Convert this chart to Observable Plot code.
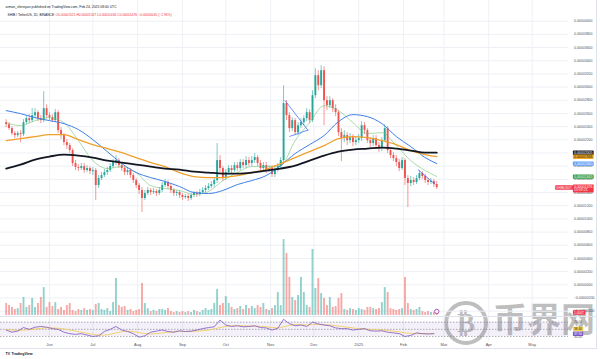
<!DOCTYPE html>
<html>
<head>
<meta charset="utf-8">
<script src="https://cdn.jsdelivr.net/npm/d3@7"></script>
<script src="https://cdn.jsdelivr.net/npm/@observablehq/plot@0.6"></script>
<style>
  html, body { margin: 0; padding: 0; background: #fff; }
  #chart { position: relative; width: 600px; height: 359px; overflow: hidden; background: #fff; }
  #chart > svg { position: absolute; left: 0; }
  .sep { position: absolute; background: #e0e3eb; }
</style>
</head>
<body>
<div id="chart"></div>
<script>
// ---------------- DATA (prices in units of 1e-8 USD, volume in trillions SHIB) ----------------
const SYMBOL_LINE = "SHIB / TetherUS, 1D, BINANCE";
const PUBLISHED = "arman_shirinyan published on TradingView.com, Feb 24, 2025 08:00 UTC";
const TICKER = "SHIBUSDT";
const COUNTDOWN = "15:59:21";
const START = "2024-05-02";          // first bar; bars every 2 days
const firstOpenE8 = 2461;

const closeE8 = [2430,2370,2294,2264,2294,2279,2461,2521,2491,2567,
2612,2521,2491,2673,2567,2536,2491,2612,2340,2264,
2158,2112,2037,1840,1779,1764,1794,1734,1764,1718,
1734,1506,1612,1658,1703,1734,1794,1855,1885,1809,
1764,1703,1734,1658,1582,1506,1431,1309,1385,1431,
1400,1415,1385,1431,1506,1552,1491,1431,1385,1400,
1355,1324,1340,1309,1355,1385,1370,1400,1431,1461,
1491,1521,1582,1885,1764,1612,1703,1764,1734,1809,
1764,1855,1809,1885,1840,1885,1930,1840,1764,1809,
1734,1764,1673,1734,1794,1885,2749,2567,2370,2491,
2309,2415,2461,2521,2612,2491,2870,3173,3021,3249,
2794,2718,2794,2673,2612,2309,2218,2264,2188,2233,
2158,2188,2218,2415,2340,2188,2143,2218,2112,2067,
2188,2370,2037,1961,1915,1855,1764,1885,1612,1537,
1582,1552,1612,1688,1643,1582,1552,1567,1521,1476];

const highE8 = [2506,2461,2400,2324,2324,2340,2506,2567,2582,2673,
2673,2643,2567,2930,2733,2612,2582,2658,2643,2385,
2294,2203,2143,2067,1885,1824,1840,1840,1809,1794,
1779,1764,1658,1703,1749,1779,1840,1900,1961,1915,
1855,1794,1779,1764,1688,1612,1537,1476,1431,1476,
1461,1461,1446,1476,1552,1597,1582,1521,1461,1431,
1431,1385,1370,1370,1385,1415,1415,1446,1476,1506,
1537,1567,1627,2143,1961,1794,1749,1809,1809,1855,
1855,1900,1900,1946,1930,1946,1991,1961,1885,1855,
1855,1809,1809,1779,1840,1930,3021,2794,2612,2536,
2521,2461,2521,2567,2673,2658,2945,3279,3249,3324,
3309,2855,2855,2824,2733,2643,2370,2340,2309,2294,
2279,2249,2279,2476,2461,2370,2233,2264,2264,2158,
2233,2430,2400,2067,2006,1961,1900,1930,1915,1658,
1643,1627,1658,1734,1718,1673,1612,1612,1597,1567];

const lowE8 = [2385,2340,2264,2218,2233,2158,2249,2430,2446,2461,
2521,2476,2446,2461,2521,2491,2461,2461,2294,2203,
2112,2052,1991,1794,1734,1718,1734,1688,1703,1673,
1658,1279,1461,1582,1627,1658,1703,1764,1809,1764,
1718,1658,1658,1612,1537,1461,1370,1097,1279,1355,
1355,1370,1340,1355,1400,1476,1446,1385,1340,1340,
1309,1279,1294,1264,1279,1324,1324,1340,1370,1400,
1431,1461,1476,1537,1703,1567,1582,1658,1688,1703,
1718,1734,1764,1764,1794,1794,1840,1794,1718,1718,
1688,1703,1627,1627,1703,1749,1855,2491,2309,2324,
2264,2264,2370,2415,2476,2446,2461,2824,2945,2976,
2415,2643,2673,2612,2552,2249,1870,2158,2112,2143,
2097,2112,2143,2173,2279,2143,2082,2097,2067,2006,
2021,2158,1991,1915,1870,1794,1718,1734,1506,1173,
1491,1506,1521,1582,1597,1537,1506,1521,1476,1446];

const volumeT = [4.0,3.3,2.7,2.0,2.3,4.0,6.0,2.7,3.3,5.7,
2.7,4.0,6.0,9.3,2.7,4.3,3.0,4.3,2.0,2.7,
1.7,3.3,4.0,1.7,1.3,2.0,1.7,2.3,1.7,2.0,
1.7,3.7,4.0,2.0,1.7,2.3,1.3,4.3,12.3,3.3,
2.7,3.0,1.7,2.0,1.3,1.7,2.0,10.7,4.0,2.3,
1.3,1.7,1.3,2.0,2.0,1.7,2.3,1.3,1.0,1.3,
1.0,1.3,1.0,1.3,1.0,1.7,1.3,1.0,1.7,2.3,
1.7,2.0,4.0,8.7,3.3,4.0,6.3,4.0,2.7,2.0,
2.3,3.0,2.0,3.3,2.3,3.0,2.3,3.3,2.7,4.0,
2.0,1.7,2.3,3.3,7.7,3.3,25.3,20.7,12.7,6.0,
5.0,6.7,12.7,7.7,3.3,2.7,22.0,9.0,12.3,7.3,
5.7,3.3,6.0,2.7,3.0,5.7,7.3,2.0,1.7,2.3,
2.0,1.7,2.3,2.0,1.7,2.7,2.7,2.3,2.0,2.3,
4.3,9.3,7.7,2.3,2.0,1.7,2.0,2.3,12.7,4.0,
2.0,1.7,2.0,2.7,1.3,1.0,1.3,1.0,1.0,1.0];

const maDates = ["2024-05-02","2024-05-12","2024-05-22","2024-06-01","2024-06-11","2024-06-21","2024-07-01","2024-07-11","2024-07-21","2024-07-31","2024-08-10","2024-08-20","2024-08-30","2024-09-09","2024-09-19","2024-09-29","2024-10-09","2024-10-19","2024-10-29","2024-11-08","2024-11-18","2024-11-28","2024-12-08","2024-12-18","2024-12-28","2025-01-07","2025-01-17","2025-01-27","2025-02-06","2025-02-16","2025-02-24"];
const ma20E8 = [2461,2415,2491,2536,2461,2188,1885,1764,1794,1703,1506,1461,1431,1370,1415,1582,1703,1794,1794,1809,2188,2461,2718,2643,2461,2294,2309,2112,1885,1734,1643];
const ma50E8 = [2643,2597,2536,2491,2446,2355,2203,2021,1840,1703,1627,1567,1491,1400,1385,1431,1521,1582,1658,1809,1991,2127,2264,2476,2582,2552,2446,2249,2097,1930,1840];
const ma100E8 = [2188,2218,2249,2279,2279,2203,2127,2067,2006,1930,1855,1794,1703,1643,1627,1627,1658,1703,1749,1840,1930,2021,2112,2218,2249,2233,2188,2127,2037,1976,1946];
const ma200E8 = [1764,1824,1900,1946,1976,1961,1930,1885,1855,1824,1794,1764,1749,1718,1703,1688,1688,1703,1734,1764,1809,1885,1961,2021,2052,2067,2082,2067,2037,2006,2005];

// RSI every 4 days from START
const rsiValues = [48,42,45,55,50,56,58,56,52,50,
42,38,36,38,34,30,32,44,50,58,
48,44,38,28,32,42,45,48,44,42,
46,44,45,48,52,55,57,76,62,58,
60,57,58,60,55,54,48,53,78,66,
60,62,58,70,65,62,60,54,52,52,
48,50,52,46,45,46,42,40,38,30,
33,40,38,37,37.9];
const rsiMA = [50,48,47,48,49,51,53,54,54,53,
51,48,45,42,39,36,34,34,36,40,
43,45,44,41,38,37,38,40,42,43,
44,44,44,45,46,48,51,55,58,60,
60,60,59,59,58,57,55,54,57,61,
63,63,62,63,64,63,62,60,58,56,
54,52,51,50,49,48,47,45,43,40,
39,38,38,38,38.4];
const rsiLevels = [70, 50, 30];
const rsiLabelTicks = [70, 30];

// hand-drawn trend lines
const trendStart = ["2024-11-11", "2024-11-14", "2025-02-11"];
const trendFrom = [2796, 2250, 1749];
const trendEnd = ["2024-11-27", "2024-11-27", "2025-02-23"];
const trendTo = [2341, 2349, 1522];

const priceTicks = [4000,3800,3600,3400,3200,3000,2800,2600,2400,2200,2000,1800,1600,1400,1200,1000,800,600,400,200,0,-200,-400];
const monthTickDates = ["2024-06-01","2024-07-01","2024-08-01","2024-09-01","2024-10-01","2024-11-01","2024-12-01","2025-01-01","2025-02-01","2025-03-01","2025-04-01","2025-05-01"];
const monthLabels = ["Jun","Jul","Aug","Sep","Oct","Nov","Dec","2025","Feb","Mar","Apr","May"];

// ---------------- BUILD ----------------
const UP = "#26a69a", DOWN = "#ef5350", GRID = "#edf0f5", AXIS_TXT = "#50535e";
const FONT = "'Liberation Sans', Arial, sans-serif";
const X_DOMAIN = [new Date("2024-04-28T02:10:00Z"), new Date("2025-05-26T04:00:00Z")];
const startDate = new Date(START + "T00:00:00Z");
const fmtPrice = v => (v < 0 ? "\u2212" : "") + (Math.abs(v) / 1e8).toFixed(8);
const monthTicks = monthTickDates.map(s => new Date(s + "T00:00:00Z"));
const fmtMonth = d => monthLabels[monthTicks.findIndex(t => +t === +d)];

const candles = closeE8.map((c, i) => {
  const open = i ? closeE8[i - 1] : firstOpenE8;
  return {date: d3.utcDay.offset(startDate, 2 * i), open, close: c, high: highE8[i], low: lowE8[i], vol: volumeT[i], up: c >= open};
});
const upC = candles.filter(d => d.up), dnC = candles.filter(d => !d.up);
const maData = maDates.map((s, i) => ({date: new Date(s + "T00:00:00Z"), ma20: ma20E8[i], ma50: ma50E8[i], ma100: ma100E8[i], ma200: ma200E8[i]}));
const rsiData = rsiValues.map((v, j) => ({date: d3.utcDay.offset(startDate, 4 * j), rsi: v, ma: rsiMA[j]}));
const trends = trendStart.map((s, i) => ({d1: new Date(s + "T00:00:00Z"), p1: trendFrom[i], d2: new Date(trendEnd[i] + "T00:00:00Z"), p2: trendTo[i]}));
const last = candles[candles.length - 1];
const lastMA = maData[maData.length - 1];
const lastRSI = rsiData[rsiData.length - 1];
const chg = last.close - last.open;
const ohlcText = `O${fmtPrice(last.open)} H${fmtPrice(last.high)} L${fmtPrice(last.low)} C${fmtPrice(last.close)} ${fmtPrice(chg)} (${chg < 0 ? "\u2212" : "+"}${Math.abs(chg / last.open * 100).toFixed(2)}%)`;

const baseStyle = {background: "transparent", fontFamily: FONT, overflow: "visible"};

// tag registry: text content -> background colour (boxes added after rendering)
const tagBoxes = new Map();
function tag(datum, text, bg, fg, opts = {}) {
  tagBoxes.set(text.replace(/\n/g, ""), bg);
  return Plot.text([datum], {frameAnchor: "right", dx: 5.5, textAnchor: "start", fontSize: 3.5, fill: fg, text: () => text, ...opts});
}

const priceTags = [
  {value: lastMA.ma200, bg: "#131722", fg: "#ffffff"},
  {value: lastMA.ma100, bg: "#f5a623", fg: "#131722"},
  {value: lastMA.ma50, bg: "#5d9cf5", fg: "#ffffff"},
  {value: lastMA.ma20, bg: "#2e9d46", fg: "#ffffff"}
];

const pricePlot = Plot.plot({
  width: 600, height: 316, marginTop: 0, marginBottom: 0, marginLeft: 0, marginRight: 32,
  x: {type: "utc", domain: X_DOMAIN, axis: null},
  y: {domain: [-481, 4314], axis: null},
  style: baseStyle,
  marks: [
    Plot.gridX(monthTicks, {stroke: GRID, strokeOpacity: 1}),
    Plot.gridY(priceTicks, {stroke: GRID, strokeOpacity: 1}),
    Plot.axisY(priceTicks, {anchor: "right", label: null, tickSize: 0, tickPadding: 5.5, tickFormat: fmtPrice, fontSize: 3.5, fill: AXIS_TXT}),
    Plot.ruleX(upC, {x: "date", y1: "low", y2: "high", stroke: UP, strokeWidth: 0.6}),
    Plot.ruleX(dnC, {x: "date", y1: "low", y2: "high", stroke: DOWN, strokeWidth: 0.6}),
    Plot.ruleX(upC, {x: "date", y1: "open", y2: "close", stroke: UP, strokeWidth: 1.9}),
    Plot.ruleX(dnC, {x: "date", y1: "open", y2: "close", stroke: DOWN, strokeWidth: 1.9}),
    Plot.line(maData, {x: "date", y: "ma20", stroke: "#6abf69", strokeOpacity: 0.8, strokeWidth: 0.7, curve: "monotone-x"}),
    Plot.line(maData, {x: "date", y: "ma50", stroke: "#3f7fe6", strokeWidth: 1, curve: "monotone-x"}),
    Plot.line(maData, {x: "date", y: "ma100", stroke: "#f0a12c", strokeWidth: 1.3, curve: "monotone-x"}),
    Plot.line(maData, {x: "date", y: "ma200", stroke: "#131722", strokeWidth: 1.8, curve: "monotone-x"}),
    Plot.link(trends, {x1: "d1", y1: "p1", x2: "d2", y2: "p2", stroke: "#2962ff", strokeWidth: 0.7}),
    Plot.text([PUBLISHED], {text: d => d, frameAnchor: "top-left", dx: 5, dy: 6, lineAnchor: "middle", textAnchor: "start", fontSize: 3.4, fill: "#131722"}),
    Plot.text([SYMBOL_LINE], {text: d => d, frameAnchor: "top-left", dx: 7, dy: 14, lineAnchor: "middle", textAnchor: "start", fontSize: 3.3, fill: "#131722"}),
    Plot.text([ohlcText], {text: d => d, frameAnchor: "top-left", dx: 55, dy: 14, lineAnchor: "middle", textAnchor: "start", fontSize: 3.3, fill: "#f23645"}),
    ...priceTags.map(t => tag(t, fmtPrice(t.value), t.bg, t.fg, {y: "value"})),
    tag(last, fmtPrice(last.close) + "\n" + COUNTDOWN, "#f23645", "#ffffff", {y: "close", lineAnchor: "top", dy: -2.2}),
    tag(last, TICKER, "#f23645", "#ffffff", {y: "close", textAnchor: "end", dx: 3.5, fontSize: 3.1})
  ]
});

const volPlot = Plot.plot({
  width: 600, height: 90, marginTop: 0, marginBottom: 0, marginLeft: 0, marginRight: 32,
  x: {type: "utc", domain: X_DOMAIN, axis: null},
  y: {domain: [0, 30], axis: null},
  style: baseStyle,
  marks: [
    Plot.ruleX(upC, {x: "date", y1: 0, y2: "vol", stroke: UP, strokeOpacity: 0.5, strokeWidth: 1.9}),
    Plot.ruleX(dnC, {x: "date", y1: 0, y2: "vol", stroke: DOWN, strokeOpacity: 0.5, strokeWidth: 1.9}),
    Plot.dot([last], {x: "date", frameAnchor: "bottom", dy: -4, r: 2.2, stroke: "#9c27b0", fill: "#ffffff", strokeWidth: 0.8}),
    tag(last, last.vol.toFixed(3) + "T", "#f23645", "#ffffff", {y: "vol", fontSize: 3.2})
  ]
});

const rsiPlot = Plot.plot({
  width: 600, height: 43, marginTop: 0, marginBottom: 18, marginLeft: 0, marginRight: 32,
  x: {type: "utc", domain: X_DOMAIN, axis: null},
  y: {domain: [16, 85.9], axis: null},
  style: baseStyle,
  marks: [
    Plot.gridX(monthTicks, {stroke: GRID, strokeOpacity: 1}),
    Plot.rect([{lo: 30, hi: 70}], {y1: "lo", y2: "hi", fill: "#7e57c2", fillOpacity: 0.09}),
    Plot.ruleY(rsiLevels, {stroke: "#787b86", strokeDasharray: "1.5,1.5", strokeWidth: 0.6}),
    Plot.line(rsiData, {x: "date", y: "ma", stroke: "#f2c94c", strokeWidth: 0.8, curve: "monotone-x"}),
    Plot.line(rsiData, {x: "date", y: "rsi", stroke: "#7e57c2", strokeWidth: 0.8}),
    Plot.axisY(rsiLabelTicks, {anchor: "right", label: null, tickSize: 0, tickPadding: 5.5, tickFormat: d => d.toFixed(2), fontSize: 3.2, fill: AXIS_TXT}),
    Plot.axisX(monthTicks, {anchor: "bottom", label: null, tickSize: 0, tickPadding: 1.6, tickFormat: fmtMonth, fontSize: 4, fill: AXIS_TXT}),
    tag(lastRSI, lastRSI.ma.toFixed(2), "#f7d64a", "#131722", {y: "ma", dy: -4.6, fontSize: 3.2}),
    tag(lastRSI, lastRSI.rsi.toFixed(2), "#7e57c2", "#ffffff", {y: "rsi", fontSize: 3.2}),
    Plot.text(["TV"], {text: d => d, frameAnchor: "bottom-left", dx: 5, dy: 12, lineAnchor: "middle", textAnchor: "start", fontSize: 3.6, fontWeight: "bold", fill: "#131722"}),
    Plot.text(["TradingView"], {text: d => d, frameAnchor: "bottom-left", dx: 11, dy: 12, lineAnchor: "middle", textAnchor: "start", fontSize: 3.6, fontWeight: "bold", fill: "#131722"})
  ]
});

const chart = document.getElementById("chart");

// watermark (drawn first, beneath the chart layers)
const wm = document.createElement("div");
wm.style.cssText = "position:absolute;left:0;top:0;width:600px;height:359px;pointer-events:none;";
wm.innerHTML = '<div style="position:absolute;left:444px;top:301px;width:36px;height:36px;border:4.5px solid rgba(125,125,125,.5);border-radius:50%;display:flex;align-items:center;justify-content:center;font:bold 27px \'DejaVu Sans\';color:rgba(125,125,125,.5);">\u20bf</div>' +
  '<div style="position:absolute;left:493px;top:297px;font:bold 34px \'Noto Sans CJK SC\';line-height:42px;color:rgba(125,125,125,.5);white-space:nowrap;">币界网</div>';
chart.appendChild(wm);

function place(svg, top) { svg.style.position = "absolute"; svg.style.left = "0px"; svg.style.top = top + "px"; chart.appendChild(svg); }
place(pricePlot, 0);
place(volPlot, 225);
place(rsiPlot, 316);

function addSep(l, t, w, h) { const d = document.createElement("div"); d.className = "sep"; Object.assign(d.style, {left: l + "px", top: t + "px", width: w + "px", height: h + "px"}); chart.appendChild(d); }
addSep(0, 315.5, 597, 1);
addSep(596, 0, 1, 349);
addSep(0, 348, 597, 1);

// background boxes for the price-scale tags
function addTagBoxes(svg) {
  svg.querySelectorAll("text").forEach(t => {
    const bg = tagBoxes.get(t.textContent);
    if (!bg) return;
    const b = t.getBBox();
    const r = document.createElementNS("http://www.w3.org/2000/svg", "rect");
    r.setAttribute("x", b.x - 1.1); r.setAttribute("y", b.y - 0.2);
    r.setAttribute("width", b.width + 2.2); r.setAttribute("height", b.height + 0.4);
    r.setAttribute("rx", 0.6); r.setAttribute("fill", bg); r.setAttribute("stroke", "none");
    if (t.getAttribute("transform")) r.setAttribute("transform", t.getAttribute("transform"));
    t.parentNode.insertBefore(r, t);
  });
}
[pricePlot, volPlot, rsiPlot].forEach(addTagBoxes);
</script>
</body>
</html>
